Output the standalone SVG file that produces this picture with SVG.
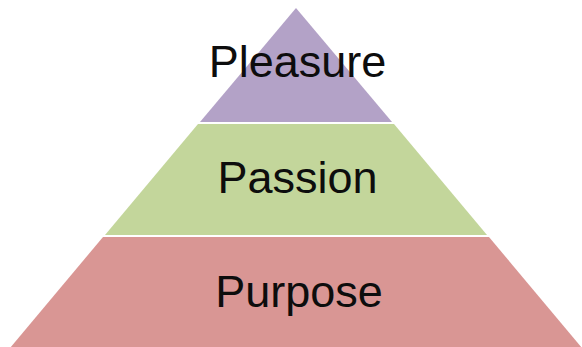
<svg xmlns="http://www.w3.org/2000/svg" width="582" height="347" viewBox="0 0 582 347">
<style>
.lbl{font-family:"Liberation Sans",Arial,sans-serif;font-size:45px;fill:#0d0d0d;text-anchor:middle}
</style>
<rect width="582" height="347" fill="#ffffff"/>
<g id="pleasure">
<polygon points="296,8 392,122 200,122" fill="#b3a2c7"/>
<text class="lbl" x="297.5" y="77">Pleasure</text>
</g>
<g id="passion">
<polygon points="198,124 394,124 487,235 105,235" fill="#c3d69b"/>
<text class="lbl" x="297.5" y="193">Passion</text>
</g>
<g id="purpose">
<polygon points="103,237 489,237 582,348 10,348" fill="#d99694"/>
<text class="lbl" x="299" y="307">Purpose</text>
</g>
<g id="connectors"/>
</svg>
